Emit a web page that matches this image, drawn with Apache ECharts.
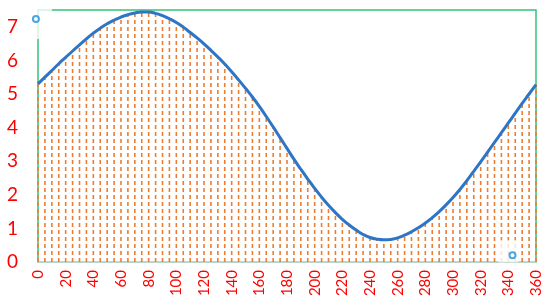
<!DOCTYPE html>
<html>
<head>
<meta charset="utf-8">
<script src="https://cdn.jsdelivr.net/npm/echarts@6/dist/echarts.min.js"></script>
<style>
  html, body { margin: 0; padding: 0; background: #fff; }
  #main { width: 550px; height: 308px; }
</style>
</head>
<body>
<div id="main"></div>
<script>
// angles every 5 degrees
var angles = [];
for (var a = 0; a <= 360; a += 5) angles.push(a);
// values
var values = [
  5.30, 5.50, 5.70, 5.90, 6.09, 6.28, 6.46, 6.64, 6.81, 6.96,
  7.09, 7.20, 7.29, 7.36, 7.41, 7.44, 7.44, 7.40, 7.33, 7.24,
  7.13, 6.99, 6.83, 6.67, 6.49, 6.30, 6.10, 5.89, 5.66, 5.42,
  5.17, 4.91, 4.63, 4.33, 4.02, 3.70, 3.38, 3.06, 2.76, 2.47,
  2.19, 1.93, 1.69, 1.47, 1.27, 1.10, 0.95, 0.82, 0.73, 0.68,
  0.66, 0.67, 0.72, 0.80, 0.90, 1.02, 1.16, 1.32, 1.50, 1.70,
  1.92, 2.16, 2.42, 2.70, 2.98, 3.27, 3.56, 3.85, 4.14, 4.43,
  4.72, 5.00, 5.28
];
var xTicks = [0, 360, 20];   // min, max, step
var yTicks = [0, 7.5, 1];
// the two small circles
var markerTL = [-1.5, 7.23];
var markerBR = [343, 0.2];

var pts = [];
for (var i = 0; i < angles.length; i++) pts.push([angles[i], values[i]]);

var chart = echarts.init(document.getElementById('main'));
chart.setOption({
  animation: false,
  grid: {
    left: 38, right: 14, top: 10, bottom: 46,
    show: true, borderColor: '#35C27A', borderWidth: 1.5, backgroundColor: 'transparent'
  },
  xAxis: {
    type: 'value', min: xTicks[0], max: xTicks[1], interval: xTicks[2],
    axisLine: { show: true, lineStyle: { color: '#d9d9d9', width: 1.5 } },
    axisTick: { show: false },
    splitLine: { show: false },
    axisLabel: { rotate: 90, color: '#ff0000', fontSize: 15, fontFamily: 'Lato', margin: 8 }
  },
  yAxis: {
    type: 'value', min: yTicks[0], max: yTicks[1], interval: yTicks[2],
    axisLine: { show: false },
    axisTick: { show: false },
    splitLine: { show: false },
    axisLabel: {
      color: '#ff0000', fontSize: 19, fontFamily: 'Lato', margin: 20,
      formatter: function (v) { return v % 1 === 0 ? String(v) : ''; }
    }
  },
  series: [
    {
      type: 'custom',
      z: 2,
      data: pts,
      renderItem: function (params, api) {
        var p0 = api.coord([api.value(0), 0]);
        var p1 = api.coord([api.value(0), api.value(1)]);
        return {
          type: 'line',
          shape: { x1: p0[0], y1: p0[1], x2: p1[0], y2: p1[1] },
          style: { stroke: '#ED7D31', lineWidth: 1.6, lineDash: [4, 3] }
        };
      }
    },
    {
      type: 'line',
      z: 3,
      data: pts,
      smooth: true,
      symbol: 'none',
      lineStyle: { color: '#2E75C6', width: 3 }
    },
    // white box behind the top-left circle
    {
      type: 'scatter',
      z: 8,
      clip: false,
      silent: true,
      data: [markerTL],
      symbolSize: 1,
      itemStyle: { color: 'rgba(255,255,255,0)' },
      label: {
        show: true, position: 'inside', formatter: ' ', backgroundColor: '#fff',
        width: 28, height: 38, offset: [2, 1]
      }
    },
    // white box behind the bottom-right circle
    {
      type: 'scatter',
      z: 8,
      clip: false,
      silent: true,
      data: [markerBR],
      symbolSize: 1,
      itemStyle: { color: 'rgba(255,255,255,0)' },
      label: {
        show: true, position: 'inside', formatter: ' ', backgroundColor: '#fff',
        width: 20, height: 22, offset: [-4, -4]
      }
    },
    {
      type: 'scatter',
      z: 12,
      clip: false,
      data: [markerTL, markerBR],
      symbol: 'emptyCircle',
      symbolSize: 6,
      itemStyle: { color: '#1E8ED8', borderWidth: 1.6 }
    }
  ]
});
</script>
</body>
</html>
